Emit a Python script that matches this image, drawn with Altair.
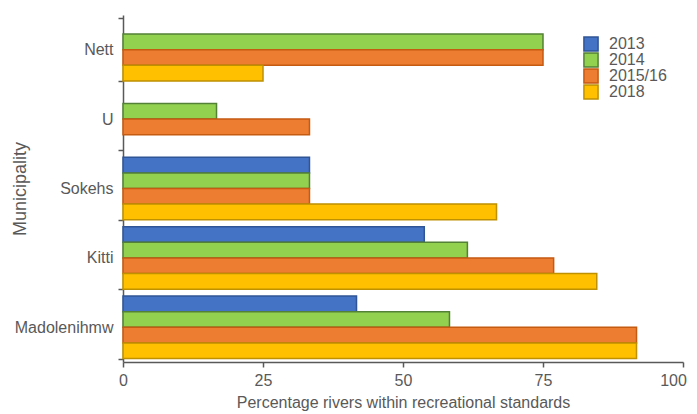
import altair as alt
import pandas as pd

munis = ["Nett", "U", "Sokehs", "Kitti", "Madolenihmw"]
years = ["2013", "2014", "2015/16", "2018"]
v2013 = [None, None, 33.3, 53.8, 41.7]
v2014 = [75.0, 16.7, 33.3, 61.5, 58.3]
v2015 = [75.0, 33.3, 33.3, 76.9, 91.7]
v2018 = [25.0, None, 66.7, 84.6, 91.7]
fills = ["#4472C4", "#92D050", "#ED7D31", "#FFC000"]
strokes = ["#2F5597", "#538135", "#C55A11", "#BF9000"]

rows = []
for yr, vals in zip(years, [v2013, v2014, v2015, v2018]):
    for m, v in zip(munis, vals):
        if v is not None:
            rows.append({"Municipality": m, "Year": yr, "Value": v})
df = pd.DataFrame(rows)

FONT = "Liberation Sans"
GRAY = "#595959"

leg = dict(title=None, orient="none", legendX=460, legendY=21,
           symbolType="square", symbolSize=200, symbolStrokeWidth=1.5,
           labelFontSize=16, labelColor=GRAY, labelFont=FONT, rowPadding=0,
           clipHeight=16, labelOffset=10, symbolOpacity=1)

chart = alt.Chart(df).mark_bar(strokeWidth=1.5).encode(
    x=alt.X("Value:Q", scale=alt.Scale(domain=[0, 100]),
            axis=alt.Axis(values=[0, 25, 50, 75, 100], grid=False, labelFlush=False,
                          labelOffset={"condition": {"test": "datum.value == 100", "value": -10}, "value": 0},
                          title="Percentage rivers within recreational standards",
                          titleY=45, titleBaseline="alphabetic", titleFontSize=16)),
    y=alt.Y("Municipality:N", sort=munis,
            scale=alt.Scale(paddingInner=0.1, paddingOuter=0.05),
            axis=alt.Axis(tickBand="extent", title="Municipality",
                          titleX=-103, titleY=173.5, titleAngle=-90, titleFontSize=18,
                          titleBaseline="middle", titleAlign="center")),
    yOffset=alt.YOffset("Year:N", sort=years, scale=alt.Scale(paddingInner=0, paddingOuter=0)),
    fill=alt.Fill("Year:N", sort=years, scale=alt.Scale(domain=years, range=fills),
                  legend=alt.Legend(**leg)),
    stroke=alt.Stroke("Year:N", sort=years, scale=alt.Scale(domain=years, range=strokes),
                      legend=alt.Legend(**leg)),
).properties(
    width=560, height=347,
    autosize=alt.AutoSizeParams(type="none"),
    padding={"left": 115, "top": 7, "right": 6, "bottom": 50},
).configure_view(stroke=None).configure_axis(
    labelFont=FONT, titleFont=FONT, labelFontSize=16,
    labelColor=GRAY, titleColor=GRAY, titleFontWeight="normal",
    domainColor="#595959", tickColor="#595959", domainWidth=1.5, tickWidth=1.5,
    tickSize=5, labelPadding=5,
)

chart.save("out.html", embed_options={"renderer": "svg", "actions": False})
